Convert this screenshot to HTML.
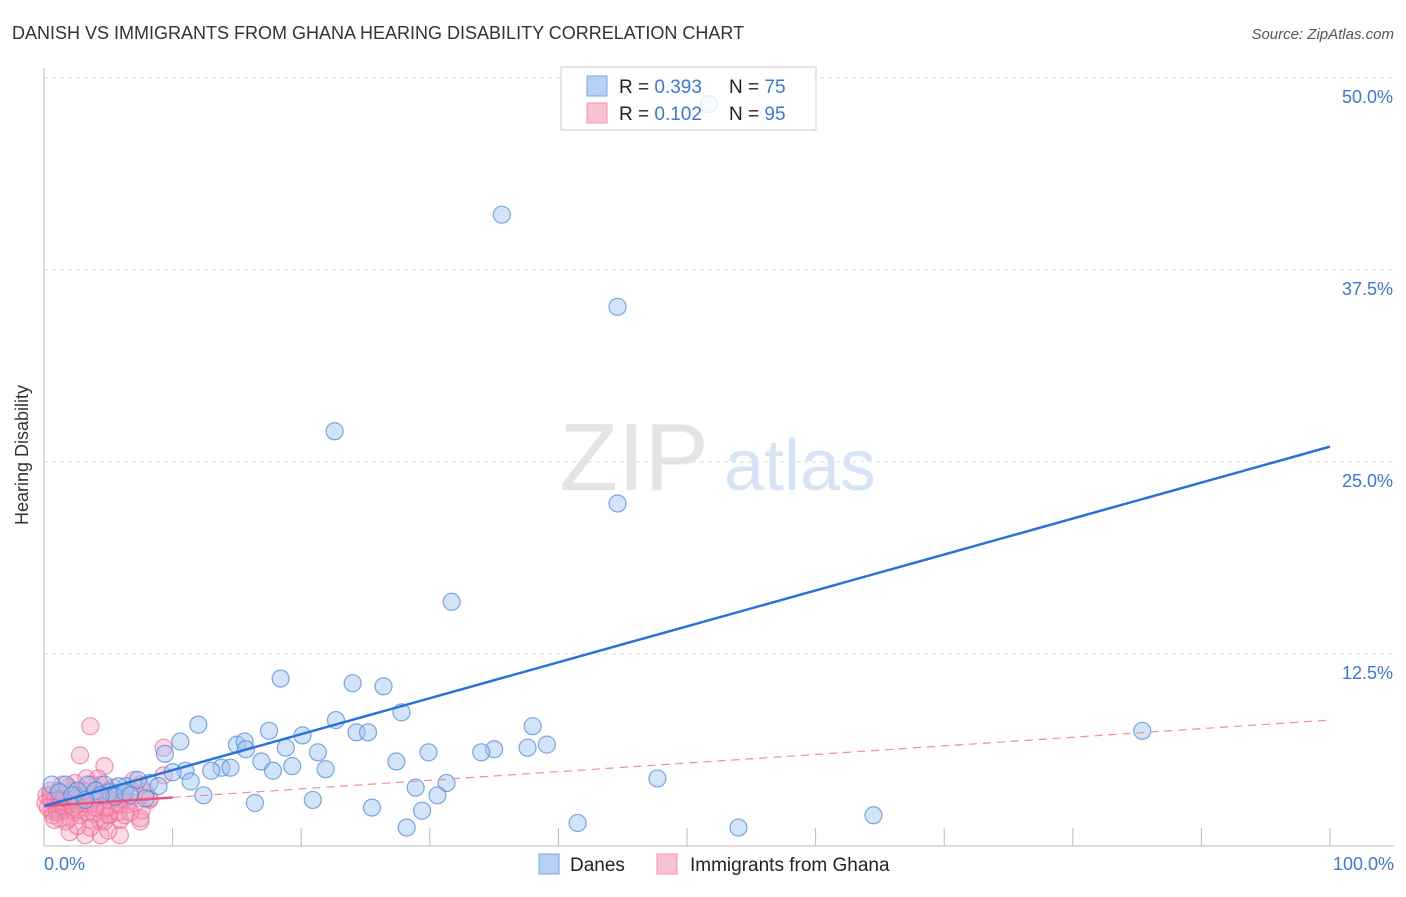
<!DOCTYPE html>
<html><head><meta charset="utf-8"><style>
body{margin:0;background:#fff;font-family:"Liberation Sans",sans-serif;}
svg text{font-family:"Liberation Sans",sans-serif;}
</style></head><body>
<svg width="1406" height="892">
<text x="12" y="39" font-size="18" fill="#333">DANISH VS IMMIGRANTS FROM GHANA HEARING DISABILITY CORRELATION CHART</text>
<text x="1394" y="39" font-size="15" fill="#555" text-anchor="end" font-style="italic">Source: ZipAtlas.com</text>
<g id="grid"></g>
<text x="634" y="490" font-size="96" fill="#e4e4e4" font-family="Liberation Serif" text-anchor="middle">ZIP</text>
<text x="800" y="490" font-size="72" fill="#d6e4f5" text-anchor="middle">atlas</text>
<g id="pts"></g>
<g id="lines"></g>
<text x="28" y="455" font-size="18" fill="#333" text-anchor="middle" transform="rotate(-90 28 455)">Hearing Disability</text>
<text x="44" y="870" font-size="18" fill="#3a78d8">0.0%</text>
<text x="1394" y="870" font-size="18" fill="#3a78d8" text-anchor="end">100.0%</text>
<g>
<rect x="561" y="67" width="255" height="63" fill="#fff" fill-opacity="0.8" stroke="#ccc"/>
<rect x="587" y="76" width="20" height="20" fill="#b7d1f5" stroke="#7aa6e6"/>
<rect x="587" y="103" width="20" height="20" fill="#f9c3d3" stroke="#f090b0"/>
<text x="619" y="93" font-size="19" fill="#222">R = <tspan fill="#3a78d8">0.393</tspan></text>
<text x="729" y="93" font-size="19" fill="#222">N = <tspan fill="#3a78d8">75</tspan></text>
<text x="619" y="120" font-size="19" fill="#222">R = <tspan fill="#3a78d8">0.102</tspan></text>
<text x="729" y="120" font-size="19" fill="#222">N = <tspan fill="#3a78d8">95</tspan></text>
</g>
<g><rect x="539" y="854" width="20" height="20" fill="#b7d1f5" stroke="#7aa6e6"/><text x="570" y="871" font-size="19" fill="#222">Danes</text></g>
<g><rect x="657" y="854" width="20" height="20" fill="#f9c3d3" stroke="#f090b0"/><text x="690" y="871" font-size="19" fill="#222">Immigrants from Ghana</text></g>
</svg>
<script>
const yTicks=[12.5,25,37.5,50];
const yTickLabels=["12.5%","25.0%","37.5%","50.0%"];
const danesX=[35.6,44.6,22.6,44.6,31.7,51.7,18.4,24.0,26.4,27.8,22.7,12.0,17.5,38.0,24.3,25.2,10.6,15.0,15.6,20.1,18.8,15.7,21.3,37.6,39.1,35.0,34.0,29.9,9.4,27.4,16.9,19.3,13.8,14.5,13.0,11.0,10.0,17.8,21.9,11.4,31.3,28.9,47.7,6.4,8.2,8.9,7.3,5.8,4.7,3.4,1.7,0.6,12.4,30.6,20.9,16.4,25.5,29.4,41.5,28.2,54.0,64.5,85.4,5.1,4.0,2.6,1.2,5.5,6.3,4.4,6.7,7.9,2.2,3.2];
const danesY=[41.1,35.1,27.0,22.3,15.9,48.3,10.9,10.6,10.4,8.7,8.2,7.9,7.5,7.8,7.4,7.4,6.8,6.6,6.8,7.2,6.4,6.3,6.1,6.4,6.6,6.3,6.1,6.1,6.0,5.5,5.5,5.2,5.1,5.1,4.9,4.9,4.8,4.9,5.0,4.2,4.1,3.8,4.4,3.9,4.1,3.9,4.3,3.9,4.0,4.0,4.0,4.0,3.3,3.3,3.0,2.8,2.5,2.3,1.5,1.2,1.2,2.0,7.5,3.5,3.6,3.6,3.5,3.2,3.5,3.3,3.3,3.1,3.3,3.0];
const ghanaX=[3.6,2.8,4.7,9.3,9.3,3.3,4.2,7.0,4.4,7.5,5.1,8.2,2.0,1.2,0.5,0.9,1.6,2.4,3.2,4.0,4.7,5.5,6.3,1.2,2.0,2.8,3.6,4.4,5.1,5.9,5.0,4.7,2.0,3.2,4.4,5.9,7.5,8.2,0.5,1.1,1.7,2.3,3.0,3.7,4.5,5.3,6.1,6.8,0.6,1.4,2.2,2.6,3.4,4.2,5.0,5.8,6.5,0.1,0.3,0.7,0.9,1.5,1.9,2.5,3.1,3.9,4.8,5.6,0.2,0.5,1.0,1.6,2.3,3.0,3.7,4.0,5.4,5.9,7.1,7.6,3.6,5.0,2.6,1.2,1.7,0.8,6.3,6.7,7.5,3.7,3.2,2.4,1.9,1.4,7.9];
const ghanaY=[7.8,5.9,5.2,6.4,4.6,4.4,4.4,4.3,4.0,4.0,3.6,3.0,2.7,3.0,3.0,2.7,2.3,2.2,2.5,2.7,2.3,2.7,3.0,2.2,1.8,2.0,1.7,1.6,2.0,1.7,2.0,1.6,0.9,0.7,0.7,0.7,1.6,3.1,3.3,3.6,3.3,3.0,3.3,3.0,3.2,3.0,3.3,3.6,2.3,2.9,3.6,2.7,2.2,3.6,3.0,2.2,2.7,2.8,2.5,2.0,3.1,2.5,3.0,3.3,2.8,2.1,2.5,3.3,3.3,3.6,2.2,3.3,2.5,3.6,3.3,2.5,3.8,2.7,2.8,2.3,1.2,1.0,1.3,1.8,1.6,1.7,2.0,2.2,1.8,4.0,3.6,4.1,3.8,4.0,3.5];
const danesTrend=[2.6,26.0];
const ghanaTrend=[2.6,8.2];
const ghanaSolidEnd=10;
const NS="http://www.w3.org/2000/svg";
const X0=44,X1=1330,Y0=846,PPY=192/12.5;
const sx=v=>X0+(X1-X0)*v/100, sy=v=>Y0-v*PPY;
function mk(t,a,p){const e=document.createElementNS(NS,t);for(const k in a)e.setAttribute(k,a[k]);p.appendChild(e);return e;}
const grid=document.getElementById('grid');
yTicks.forEach((t,i)=>{
 const l=mk('line',{x1:X0,x2:1394,y1:sy(t),y2:sy(t),stroke:'#ddd','stroke-dasharray':'4 4'},grid);
 
 
 const tx=mk('text',{x:1393,y:sy(t)+25,'font-size':18,fill:'#3a78d8','text-anchor':'end'},grid);
 tx.textContent=yTickLabels[i];
 
 
});
const ax=mk('line',{x1:X0,x2:X0,y1:68,y2:Y0,stroke:'#bbb'},grid);


const bx=mk('line',{x1:X0,x2:1394,y1:Y0,y2:Y0,stroke:'#bbb'},grid);


for(let i=1;i<=10;i++){const t=mk('line',{x1:sx(i*10),x2:sx(i*10),y1:Y0-18,y2:Y0,stroke:'#bbb'},grid);
 
 }
const pts=document.getElementById('pts');
ghanaX.forEach((x,i)=>{const c=mk('circle',{cx:sx(x),cy:sy(ghanaY[i]),r:8.5,fill:'rgba(244,150,180,0.35)',stroke:'rgba(236,110,150,0.7)','stroke-width':1.2},pts);
 
 });
danesX.forEach((x,i)=>{const c=mk('circle',{cx:sx(x),cy:sy(danesY[i]),r:8.5,fill:'rgba(160,196,240,0.45)',stroke:'rgba(80,140,220,0.75)','stroke-width':1.2},pts);
 
 });
const L=document.getElementById('lines');
const gy=v=>ghanaTrend[0]+(ghanaTrend[1]-ghanaTrend[0])*v/100;
const d1=mk('line',{x1:sx(ghanaSolidEnd),y1:sy(gy(ghanaSolidEnd)),x2:sx(100),y2:sy(gy(100)),stroke:'#f08aa8','stroke-width':1.2,'stroke-dasharray':'8 6'},L);


const d2=mk('line',{x1:sx(0),y1:sy(gy(0)),x2:sx(ghanaSolidEnd),y2:sy(gy(ghanaSolidEnd)),stroke:'#e8557f','stroke-width':2.5},L);


const d3=mk('line',{x1:sx(0),y1:sy(danesTrend[0]),x2:sx(100),y2:sy(danesTrend[1]),stroke:'#2a72d8','stroke-width':2.5},L);


</script>
</body></html>
